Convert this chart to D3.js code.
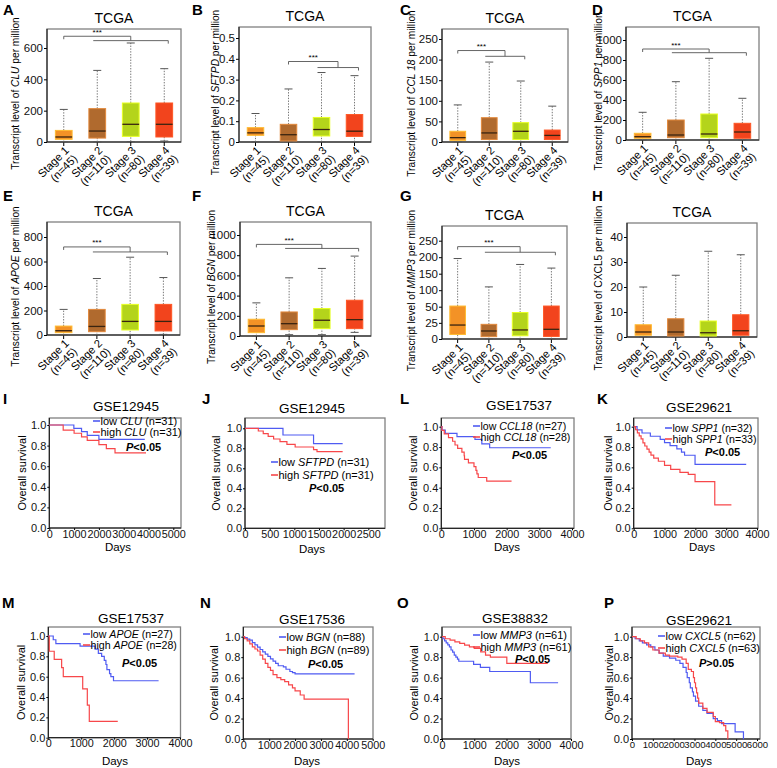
<!DOCTYPE html>
<html><head><meta charset="utf-8">
<script src="https://cdnjs.cloudflare.com/ajax/libs/d3/7.8.5/d3.min.js"></script>
<style>body{margin:0;background:#fff} svg{display:block;font-family:Arial,"Liberation Sans",sans-serif}</style>
</head><body><svg id="c" width="777" height="768"></svg>
<script>
// ---------------- DATA ----------------
const stages = ["Stage 1","Stage 2","Stage 3","Stage 4"];
const stageN = ["(n=45)","(n=110)","(n=80)","(n=39)"];
const stageColors = ["#f39226","#b06a2e","#b4d41b","#f2441d"];

// box stats per stage: [lower whisker, q1, median, q3, upper whisker]
const boxCLU   = [[0,17,32,74,208],[0,25,70,213,457],[3,36,113,249,632],[6,32,113,249,468]];
const boxSFTPD = [[0,0.032,0.044,0.069,0.137],[0,0.005,0.035,0.085,0.255],[0,0.029,0.06,0.118,0.334],[0,0.027,0.052,0.132,0.319]];
const boxCCL18 = [[0,4,10.6,26,90],[0,6,22,59,194],[0,6,26,47,148],[0,6,16,29,87]];
const boxSPP1  = [[0,17,33,67,277],[0,23,50,200,583],[0,23,60,260,817],[0,17,80,167,417]];
const boxAPOE  = [[0,19,35,73,209],[0,27,70,209,461],[0,41,111,250,635],[5,33,111,250,469]];
const boxBGN   = [[0,33,99,166,328],[13,63,122,238,576],[13,73,156,272,669],[36,73,162,354,791]];
const boxMMP3  = [[0,7,21.6,52,196],[0,3.6,12.4,22.7,110],[0,5,14,41,178],[0,4,15,52,167]];
const boxCXCL5 = [[0,0.7,2,4.9,20],[0,0.4,2,7.3,24.7],[0,0.4,1.7,6.4,34.3],[0,0.7,2.5,8.9,32.9]];

const ticksCLU   = [0,200,400,600];
const ticksSFTPD = [0,0.1,0.2,0.3,0.4,0.5];
const ticksCCL18 = [0,50,100,150,200,250];
const ticksSPP1  = [0,200,400,600,800,1000];
const ticksAPOE  = [0,200,400,600,800];
const ticksBGN   = [0,200,400,600,800,1000];
const ticksMMP3  = [0,25,50,100,150,200,250];
const ticksCXCL5 = [0,10,20,30,40];

// significance: [reference stage, first stage of group, last stage of group, bracket value, group line value]
const sigCLU   = [0,1,3,675,647];
const sigSFTPD = [1,2,3,0.387,0.358];
const sigCCL18 = [0,1,2,222,208];
const sigSPP1  = [0,1,3,910,873];
const sigAPOE  = [0,1,3,719,678];
const sigBGN   = [0,1,3,907,867];
const sigMMP3  = [0,1,3,232,215];

// Kaplan-Meier step points [days, survival]
const kmCLUlow  = [[0,1],[990,0.967],[1300,0.935],[1530,0.9],[2000,0.86],[3850,0.86]];
const kmCLUhigh = [[0,1],[560,0.95],[1000,0.92],[1300,0.885],[1530,0.85],[2000,0.81],[2300,0.77],[2650,0.73],[3900,0.73]];
const kmSFTPDlow  = [[0,1],[770,0.933],[1390,0.847],[1980,0.847]];
const kmSFTPDhigh = [[0,1],[270,0.973],[370,0.947],[470,0.92],[580,0.893],[710,0.867],[850,0.84],[1017,0.813],[1390,0.787],[1460,0.767],[1980,0.767]];
const kmCCL18low  = [[0,1],[20,0.967],[120,0.934],[480,0.902],[1030,0.875],[1240,0.83],[1480,0.793],[3350,0.793]];
const kmCCL18high = [[0,1],[20,0.964],[90,0.929],[220,0.893],[345,0.857],[420,0.82],[500,0.786],[630,0.75],[700,0.714],[710,0.679],[830,0.643],[1000,0.607],[1060,0.571],[1090,0.536],[1130,0.5],[1390,0.464],[2150,0.464]];
const kmSPP1low  = [[0,1],[110,0.969],[270,0.938],[540,0.906],[860,0.875],[1000,0.844],[1180,0.813],[1400,0.781],[1550,0.75],[1650,0.719],[1990,0.63],[3650,0.63]];
const kmSPP1high = [[0,1],[60,0.97],[120,0.94],[180,0.91],[240,0.88],[300,0.84],[360,0.81],[430,0.78],[500,0.75],[560,0.72],[650,0.69],[800,0.66],[1000,0.62],[1200,0.58],[1500,0.55],[1770,0.53],[1990,0.46],[2630,0.23],[3170,0.23]];
const kmAPOElow  = [[0,1],[150,0.963],[230,0.926],[965,0.9],[1420,0.87],[1520,0.83],[1620,0.8],[1700,0.76],[1750,0.72],[1780,0.67],[1860,0.63],[1900,0.6],[1980,0.56],[3350,0.56]];
const kmAPOEhigh = [[0,1],[30,0.85],[180,0.77],[405,0.69],[455,0.6],[1045,0.48],[1185,0.32],[1245,0.16],[2110,0.16]];
const kmBGNlow  = [[0,1],[50,0.99],[150,0.977],[250,0.966],[350,0.943],[450,0.92],[550,0.898],[650,0.875],[750,0.852],[850,0.83],[950,0.807],[1050,0.784],[1150,0.761],[1250,0.739],[1350,0.716],[1550,0.705],[1650,0.682],[1800,0.66],[1900,0.648],[2000,0.636],[4300,0.636]];
const kmBGNhigh = [[0,1],[50,0.98],[150,0.96],[250,0.93],[350,0.9],[450,0.88],[550,0.86],[650,0.82],[750,0.78],[850,0.74],[950,0.7],[1050,0.67],[1150,0.63],[1300,0.6],[1450,0.58],[1600,0.56],[1750,0.53],[1900,0.5],[2000,0.47],[2200,0.43],[2350,0.39],[4060,0]];
const kmMMP3low  = [[0,1],[30,0.98],[80,0.96],[130,0.94],[180,0.92],[230,0.9],[280,0.87],[330,0.85],[380,0.82],[430,0.8],[480,0.78],[520,0.76],[980,0.73],[1190,0.7],[1480,0.66],[2740,0.55],[3600,0.55]];
const kmMMP3high = [[0,1],[100,0.98],[250,0.967],[400,0.95],[550,0.934],[700,0.918],[850,0.9],[1000,0.885],[1200,0.852],[1350,0.82],[1500,0.8],[2010,0.74],[3280,0.74]];
const kmCXCL5low  = [[0,1],[150,0.98],[350,0.96],[500,0.94],[700,0.92],[900,0.9],[1100,0.87],[1300,0.84],[1500,0.81],[1800,0.79],[2100,0.77],[2300,0.74],[2450,0.7],[2600,0.65],[2650,0.6],[2750,0.55],[2800,0.5],[2900,0.46],[2950,0.42],[3050,0.37],[3200,0.32],[3400,0.28],[3600,0.25],[3900,0.2],[4100,0.18],[4300,0.15],[4950,0.07],[5350,0],[5360,0]];
const kmCXCL5high = [[0,1],[200,0.98],[400,0.96],[600,0.94],[800,0.9],[1000,0.87],[1300,0.84],[1600,0.82],[1800,0.81],[2200,0.8],[2400,0.78],[2600,0.74],[2700,0.68],[2850,0.66],[2950,0.6],[3000,0.55],[3050,0.5],[3100,0.45],[3150,0.4],[3200,0.35],[3400,0.3],[3600,0.26],[3900,0.22],[4000,0.17],[4200,0.16],[4400,0.13],[4500,0.08],[4600,0],[4610,0]];

// ---------------- DRAWING ----------------
const svg = d3.select("#c");
svg.append("rect").attr("width",777).attr("height",768).attr("fill","#fff");
const FONT = "Arial,Liberation Sans,sans-serif";

function letter(t,x,y){
  svg.append("text").attr("x",x).attr("y",y).attr("font-size",15).attr("font-weight","bold").attr("fill","#000").text(t);
}

function boxPanel(L, data, ticks, gene, italic, sig){
  const g = svg.append("g");
  const y = L.piece ? d3.scaleLinear().domain(L.piece[0]).range(L.piece[1])
                    : d3.scaleLinear().domain([0,L.tv]).range([L.yb,L.tp]);
  const x = d3.scaleBand().domain(stages).range([L.x0,L.x1]);
  const bw = x.bandwidth();
  const cx = s => x(s)+bw/2;
  letter(L.letter, L.lx, L.ly);
  g.append("text").attr("x",(L.x0+L.x1)/2).attr("y",L.top-6).attr("text-anchor","middle")
    .attr("font-size",14).text("TCGA");
  g.append("rect").attr("x",L.x0).attr("y",L.top).attr("width",L.x1-L.x0).attr("height",L.yb-L.top)
    .attr("fill","none").attr("stroke","#808080").attr("stroke-width",1.3);
  const ya = g.append("g").attr("transform",`translate(${L.x0},0)`)
    .call(d3.axisLeft(y).tickValues(ticks).tickSize(3).tickPadding(1).tickFormat(d=>String(d)));
  ya.select(".domain").remove();
  ya.selectAll("text").attr("font-size",11.5).attr("font-family",FONT).attr("fill","#111");
  g.append("line").attr("x1",L.x0).attr("x2",L.x0).attr("y1",L.top).attr("y2",L.yb).attr("stroke","#111");
  const xa = g.append("g").attr("transform",`translate(0,${L.yb})`)
    .call(d3.axisBottom(x).tickSize(4).tickFormat(""));
  xa.select(".domain").remove();
  g.append("line").attr("x1",L.x0).attr("x2",L.x1).attr("y1",L.yb).attr("y2",L.yb).attr("stroke","#111");
  // axis title
  const t = g.append("text").attr("transform",`translate(${L.labx},${(L.top+L.yb)/2+8}) rotate(-90)`)
    .attr("text-anchor","middle").attr("font-size",10.2);
  t.append("tspan").text("Transcript level of ");
  t.append("tspan").attr("font-style",italic?"italic":"normal").text(gene);
  t.append("tspan").text(" per million");
  // x labels
  stages.forEach((s,i)=>{
    const tx = g.append("text").attr("transform",`translate(${cx(s)+6},${L.yb+9}) rotate(-45)`)
      .attr("text-anchor","end").attr("font-size",11.2);
    tx.append("tspan").attr("x",0).attr("dy",0).text(s);
    tx.append("tspan").attr("x",0).attr("dy","1.05em").text(stageN[i]);
  });
  // boxes
  stages.forEach((s,i)=>{
    const d = data[i], c = cx(s), w = bw*0.5;
    const wg = g.append("g");
    [[d[3],d[4]],[d[0],d[1]]].forEach(p=>{
      wg.append("line").attr("x1",c).attr("x2",c).attr("y1",y(p[0])).attr("y2",y(p[1]))
        .attr("stroke","#777").attr("stroke-width",1).attr("stroke-dasharray","1.4,1.4");
    });
    [d[4],d[0]].forEach(v=>{
      wg.append("line").attr("x1",c-4).attr("x2",c+4).attr("y1",y(v)).attr("y2",y(v))
        .attr("stroke","#555").attr("stroke-width",1);
    });
    wg.append("rect").attr("x",c-w/2).attr("y",y(d[3])).attr("width",w).attr("height",y(d[1])-y(d[3]))
      .attr("fill",stageColors[i]).attr("stroke",d3.color(stageColors[i]).brighter(0.7)).attr("stroke-width",1);
    wg.append("line").attr("x1",c-w/2).attr("x2",c+w/2).attr("y1",y(d[2])).attr("y2",y(d[2]))
      .attr("stroke","#3a2410").attr("stroke-width",1.3);
  });
  if(sig){
    const cs = stages.map(cx);
    const lL = cs[sig[1]]-4, lR = cs[sig[2]]+4, mid = (lL+lR)/2;
    const yb = y(sig[3]), yl = y(sig[4]);
    g.append("path").attr("d",`M${cs[sig[0]]},${yb+3}V${yb}H${mid}V${yl}`).attr("fill","none").attr("stroke","#555").attr("stroke-width",0.9);
    g.append("path").attr("d",`M${lL},${yl}H${lR}V${yl+3}`).attr("fill","none").attr("stroke","#555").attr("stroke-width",0.9);
    g.append("text").attr("x",(cs[sig[0]]+mid)/2).attr("y",yb-1.5).attr("text-anchor","middle").attr("font-size",8).text("***");
  }
}

function kmPanel(K, low, high, gene, nLow, nHigh, pText){
  const g = svg.append("g");
  const x = d3.scaleLinear().domain([0,K.xtv]).range([K.x0,K.xtp]);
  const y = d3.scaleLinear().domain([0,1]).range([K.y0,K.y1]);
  letter(K.letter, K.lx, K.ly);
  g.append("text").attr("x",K.tx).attr("y",K.ty).attr("text-anchor","middle").attr("font-size",13.5).text(K.title);
  g.append("rect").attr("x",K.x0).attr("y",K.top).attr("width",K.right-K.x0).attr("height",K.y0-K.top)
    .attr("fill","none").attr("stroke","#808080").attr("stroke-width",1.3);
  const ya = g.append("g").attr("transform",`translate(${K.x0},0)`)
    .call(d3.axisLeft(y).tickValues([0,0.2,0.4,0.6,0.8,1]).tickSize(2).tickPadding(1).tickFormat(d3.format(".1f")));
  ya.select(".domain").remove();
  ya.selectAll("text").attr("font-size",11).attr("font-family",FONT).attr("fill","#111");
  g.append("line").attr("x1",K.x0).attr("x2",K.x0).attr("y1",K.top).attr("y2",K.y0).attr("stroke","#111");
  const ticks = d3.range(0,K.xtv+1,K.xstep);
  const xa = g.append("g").attr("transform",`translate(0,${K.y0})`)
    .call(d3.axisBottom(x).tickValues(ticks).tickSize(2).tickPadding(0).tickFormat(d=>String(d)));
  xa.select(".domain").remove();
  xa.selectAll("text").attr("font-size",K.xfs||10.8).attr("font-family",FONT).attr("fill","#111");
  g.append("line").attr("x1",K.x0).attr("x2",K.right).attr("y1",K.y0).attr("y2",K.y0).attr("stroke","#111");
  g.append("text").attr("transform",`translate(${K.osx},${(K.top+K.y0)/2}) rotate(-90)`)
    .attr("text-anchor","middle").attr("font-size",11).text("Overall survival");
  g.append("text").attr("x",K.dx).attr("y",K.dy).attr("text-anchor","middle").attr("font-size",11.5).text("Days");
  const line = d3.line().x(d=>x(d[0])).y(d=>y(d[1])).curve(d3.curveStepAfter);
  g.append("path").datum(low).attr("d",line).attr("fill","none").attr("stroke","#4f5bf2").attr("stroke-width",1.2);
  g.append("path").datum(high).attr("d",line).attr("fill","none").attr("stroke","#f7474a").attr("stroke-width",1.2);
  // legend
  [["low ",nLow,"#4f5bf2",K.ly1],["high ",nHigh,"#f7474a",K.ly2]].forEach(r=>{
    g.append("line").attr("x1",K.legx).attr("x2",K.legx+7).attr("y1",r[3]).attr("y2",r[3]).attr("stroke",r[2]).attr("stroke-width",1.6);
    const t = g.append("text").attr("x",K.legx+7.5).attr("y",r[3]+3.8).attr("font-size",K.lfs||11);
    t.append("tspan").text(r[0]);
    t.append("tspan").attr("font-style","italic").text(gene);
    t.append("tspan").text(` (n=${r[1]})`);
  });
  const p = g.append("text").attr("x",K.px).attr("y",K.py).attr("font-size",11).attr("font-weight","bold");
  p.append("tspan").attr("font-style","italic").text("P");
  p.append("tspan").text(pText);
}

// box panels (layout)
boxPanel({letter:"A",lx:3,ly:15,x0:47,x1:181,top:29,yb:142,tv:600,tp:48,labx:19}, boxCLU, ticksCLU, "CLU", true, sigCLU);
boxPanel({letter:"B",lx:192,ly:15,x0:239,x1:371,top:27,yb:142,tv:0.5,tp:38,labx:219}, boxSFTPD, ticksSFTPD, "SFTPD", true, sigSFTPD);
boxPanel({letter:"C",lx:400,ly:15,x0:442,x1:568,top:29,yb:142,tv:250,tp:39,labx:415}, boxCCL18, ticksCCL18, "CCL 18", true, sigCCL18);
boxPanel({letter:"D",lx:592,ly:15,x0:626,x1:759,top:27,yb:140,tv:1000,tp:40,labx:602}, boxSPP1, ticksSPP1, "SPP1", true, sigSPP1);
boxPanel({letter:"E",lx:3,ly:201,x0:47,x1:180,top:222,yb:335,tv:800,tp:237,labx:19}, boxAPOE, ticksAPOE, "APOE", true, sigAPOE);
boxPanel({letter:"F",lx:192,ly:201,x0:240,x1:371,top:222,yb:336,tv:1000,tp:235,labx:215}, boxBGN, ticksBGN, "BGN", true, sigBGN);
boxPanel({letter:"G",lx:400,ly:201,x0:442,x1:567,top:226,yb:339,piece:[[0,50,250],[339,306.7,240.7]],labx:415}, boxMMP3, ticksMMP3, "MMP3", true, sigMMP3);
boxPanel({letter:"H",lx:592,ly:201,x0:627,x1:757,top:223,yb:337,tv:40,tp:237,labx:602}, boxCXCL5, ticksCXCL5, "CXCL5", false, null);

// KM panels (layout)
kmPanel({letter:"I",lx:3,ly:404,title:"GSE12945",tx:126,ty:411,x0:49.3,xtp:173.3,xtv:5000,xstep:1000,right:181,top:418,y0:528,y1:425,osx:26,dx:118,dy:551,legx:93,ly1:421,ly2:432,px:126,py:451},
  kmCLUlow, kmCLUhigh, "CLU", 31, 31, "<0.05");
kmPanel({letter:"J",lx:202,ly:404,title:"GSE12945",tx:312,ty:413,x0:245,xtp:368.3,xtv:2500,xstep:500,right:385,top:418,y0:528.3,y1:428.3,osx:220,dx:312,dy:553,legx:271,ly1:462,ly2:475,px:309,py:492},
  kmSFTPDlow, kmSFTPDhigh, "SFTPD", 31, 31, "<0.05");
kmPanel({letter:"L",lx:400,ly:404,title:"GSE17537",tx:519,ty:410,x0:441.3,xtp:572,xtv:4000,xstep:1000,right:574,top:418,y0:528.3,y1:426.7,osx:417,dx:507,dy:551,legx:473,ly1:426,ly2:437,px:512,py:459,lfs:10.6},
  kmCCL18low, kmCCL18high, "CCL18", 27, 28, "<0.05");
kmPanel({letter:"K",lx:597,ly:404,title:"GSE29621",tx:699,ty:412,x0:633.7,xtp:757,xtv:4000,xstep:1000,right:758,top:418,y0:528.3,y1:426.7,osx:612,dx:702,dy:551,legx:665,ly1:428,ly2:439,px:705,py:456,lfs:10.6},
  kmSPP1low, kmSPP1high, "SPP1", 32, 33, "<0.05");
kmPanel({letter:"M",lx:2,ly:608,title:"GSE17537",tx:131,ty:623,x0:48.3,xtp:180,xtv:4000,xstep:1000,right:180.5,top:627,y0:737.7,y1:636,osx:25,dx:115,dy:765,legx:83,ly1:634,ly2:645,px:122,py:667,lfs:10.6},
  kmAPOElow, kmAPOEhigh, "APOE", 27, 28, "<0.05");
kmPanel({letter:"N",lx:200,ly:608,title:"GSE17536",tx:312,ty:624,x0:243.3,xtp:372.7,xtv:5000,xstep:1000,right:373,top:627,y0:739,y1:636.7,osx:218,dx:307,dy:765,legx:279,ly1:637,ly2:650,px:308,py:668},
  kmBGNlow, kmBGNhigh, "BGN", 88, 89, "<0.05");
kmPanel({letter:"O",lx:397,ly:608,title:"GSE38832",tx:515,ty:623,x0:442,xtp:571,xtv:4000,xstep:1000,right:571,top:627,y0:739,y1:636.7,osx:418,dx:507,dy:765,legx:473,ly1:635,ly2:647,px:515,py:663},
  kmMMP3low, kmMMP3high, "MMP3", 61, 61, "<0.05");
kmPanel({letter:"P",lx:604,ly:608,title:"GSE29621",tx:699,ty:625,x0:632,xtp:757,xtv:6000,xstep:1000,right:760,top:627,y0:739,y1:636.7,osx:613,dx:699,dy:765,legx:658,ly1:636,ly2:648,px:699,py:667,xfs:9.6},
  kmCXCL5low, kmCXCL5high, "CXCL5", 62, 63, ">0.05");
</script>
</body></html>
